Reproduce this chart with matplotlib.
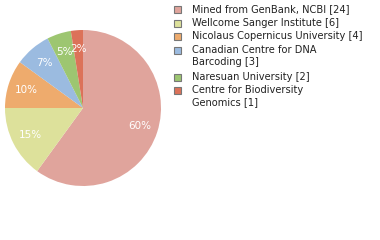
import math
import matplotlib
matplotlib.use("Agg")
import matplotlib.pyplot as plt
from matplotlib.patches import Rectangle

labels = [
    "Mined from GenBank, NCBI [24]",
    "Wellcome Sanger Institute [6]",
    "Nicolaus Copernicus University [4]",
    "Canadian Centre for DNA\nBarcoding [3]",
    "Naresuan University [2]",
    "Centre for Biodiversity\nGenomics [1]",
]
counts = [24, 6, 4, 3, 2, 1]
colors = ["#e0a49c", "#dde19b", "#eeab6d", "#9bbbe0", "#9dc671", "#dc7259"]

fig = plt.figure(figsize=(3.8, 2.4), dpi=100)
# pie: center ~ (83, 108) px, radius ~78 px
ax = fig.add_axes([(83 - 78) / 380, 1 - (108 + 78) / 240, 156 / 380, 156 / 240])
ax.pie(
    counts,
    colors=colors,
    startangle=90,
    counterclock=False,
    autopct=lambda p: f"{math.floor(p + 1e-6)}%",
    pctdistance=0.76,
    textprops=dict(color="white", fontsize=7.5),
    wedgeprops=dict(linewidth=0),
)
ax.set_xlim(-1, 1)
ax.set_ylim(-1, 1)
ax.set_aspect("equal")
ax.axis("off")

# legend drawn by hand
row_y = [9, 23, 36, 50, 77, 90]
for lab, col, y in zip(labels, colors, row_y):
    fig.patches.append(Rectangle((174 / 380, 1 - (y + 4) / 240), 7 / 380, 7 / 240,
                                 facecolor=col, edgecolor="#777777", linewidth=0.8,
                                 transform=fig.transFigure))
    fig.text(192 / 380, 1 - (y - 5) / 240, lab, fontsize=7.1, color="#222222",
             va="top", ha="left", linespacing=1.3)

fig.savefig("out.png", dpi=100)
